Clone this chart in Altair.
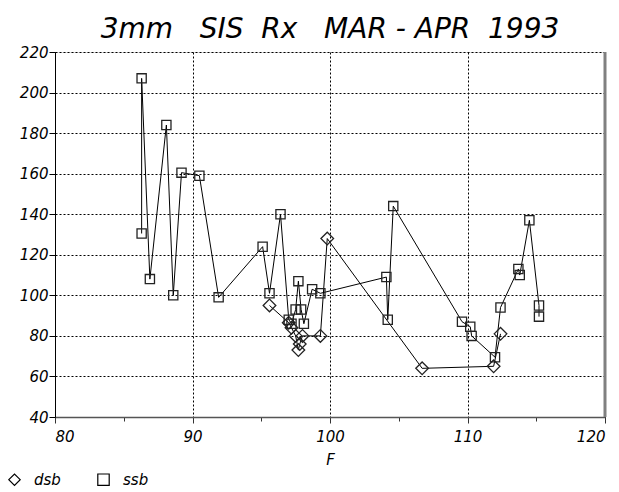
import altair as alt
import pandas as pd

# ---- data ----
dsb_f = [95.6, 97.0, 97.2, 97.5, 97.7, 97.8, 98.0, 99.3, 99.8, 106.7, 111.9, 112.4]
dsb_v = [95, 86.5, 84, 80, 73, 76, 80, 80, 128, 64, 65, 81]

ssb_f = [86.3, 86.3, 86.9, 88.1, 88.6, 89.2, 90.5, 91.9, 95.1, 95.6, 96.4,
         97.0, 97.2, 97.5, 97.7, 97.9, 98.1, 98.7, 99.3, 104.1, 104.2, 104.6,
         109.6, 110.2, 110.3, 112.0, 112.4, 113.7, 113.8, 114.5, 115.2, 115.2]
ssb_v = [130.5, 207, 108, 184, 100, 160.5, 159, 99, 124, 101, 140,
         88, 86, 93, 107, 93, 86, 103, 101, 109, 88, 144,
         87, 84.5, 80, 69.5, 94, 113, 110, 137, 95, 89.5]

series_names = ["dsb", "ssb"]
x_ticks = [80, 85, 90, 95, 100, 105, 110, 115, 120]
y_ticks = list(range(40, 221, 10))
title_text = "3mm\u00a0\u00a0\u00a0SIS\u00a0\u00a0Rx\u00a0\u00a0\u00a0MAR - APR\u00a0\u00a01993"

rows = []
for i, (f, v) in enumerate(zip(dsb_f, dsb_v)):
    rows.append({"F": f, "val": v, "series": "dsb", "i": i})
for i, (f, v) in enumerate(zip(ssb_f, ssb_v)):
    rows.append({"F": f, "val": v, "series": "ssb", "i": i})
df = pd.DataFrame(rows)

FONT = "DejaVu Sans"

xscale = alt.Scale(domain=[80, 120], nice=False, zero=False)
yscale = alt.Scale(domain=[40, 220], nice=False, zero=False)

x_axis = alt.Axis(
    values=x_ticks, title="F",
    labelExpr="datum.value % 10 === 0 ? datum.label : ''",
    tickSize={"condition": {"test": "datum.value % 10 === 0", "value": 6}, "value": 4},
    gridOpacity={"condition": {"test": "datum.value % 10 === 0", "value": 1}, "value": 0},
    grid=True, gridColor="#000", gridDash=[2, 2], gridWidth=1,
    domainColor="#555", domainWidth=1.5, tickColor="#333",
    labelFont=FONT, labelFontStyle="italic", labelFontSize=15, labelColor="#000",
    labelPadding=6, titleFont=FONT, titleFontStyle="italic", titleFontSize=15,
    titleFontWeight="normal", titleColor="#000", titlePadding=8,
)
y_axis = alt.Axis(
    values=y_ticks, title=None,
    labelExpr="datum.value % 20 === 0 ? datum.label : ''",
    tickSize={"condition": {"test": "datum.value % 20 === 0", "value": 6}, "value": 3},
    gridOpacity={"condition": {"test": "datum.value % 20 === 0", "value": 1}, "value": 0},
    grid=True, gridColor="#000", gridDash=[2, 2], gridWidth=1,
    domainColor="#000", tickColor="#000",
    labelFont=FONT, labelFontStyle="italic", labelFontSize=15, labelColor="#000",
    labelPadding=1,
)

base = alt.Chart(df)

lines = base.mark_line(color="#000", strokeWidth=1).encode(
    x=alt.X("F:Q", scale=xscale, axis=x_axis),
    y=alt.Y("val:Q", scale=yscale, axis=y_axis),
    detail="series:N",
    order="i:Q",
)

points = base.mark_point(filled=False, color="#222", strokeWidth=1.3, opacity=1).encode(
    x=alt.X("F:Q", scale=xscale),
    y=alt.Y("val:Q", scale=yscale),
    shape=alt.Shape("series:N",
                    scale=alt.Scale(domain=series_names, range=["diamond", "square"]),
                    legend=alt.Legend(
                        title=None, orient="none", direction="horizontal",
                        legendX=-48, legendY=420,
                        labelFont=FONT, labelFontStyle="italic", labelFontSize=15,
                        labelColor="#000", columnPadding=34, symbolStrokeColor="#000",
                        symbolStrokeWidth=1.2, symbolSize=130, labelOffset=12,
                    )),
    size=alt.condition(alt.datum.series == "dsb", alt.value(160), alt.value(85)),
)

right_border = alt.Chart(pd.DataFrame({"b": [120]})).mark_rule(
    color="#808080", strokeWidth=3).encode(x=alt.X("b:Q", scale=xscale))

chart = alt.layer(lines, points, right_border).properties(
    width=550, height=365,
    title=alt.Title(title_text, font=FONT, fontStyle="italic", fontSize=28,
                    fontWeight="normal", color="#000", anchor="middle", offset=1),
    autosize=alt.AutoSizeParams(type="none"),
    padding={"left": 47, "top": 44, "right": 6, "bottom": 74},
).configure_view(stroke="#000", strokeWidth=1).configure(background="white")

chart.save("out.html", embed_options={"renderer": "svg", "actions": False})
